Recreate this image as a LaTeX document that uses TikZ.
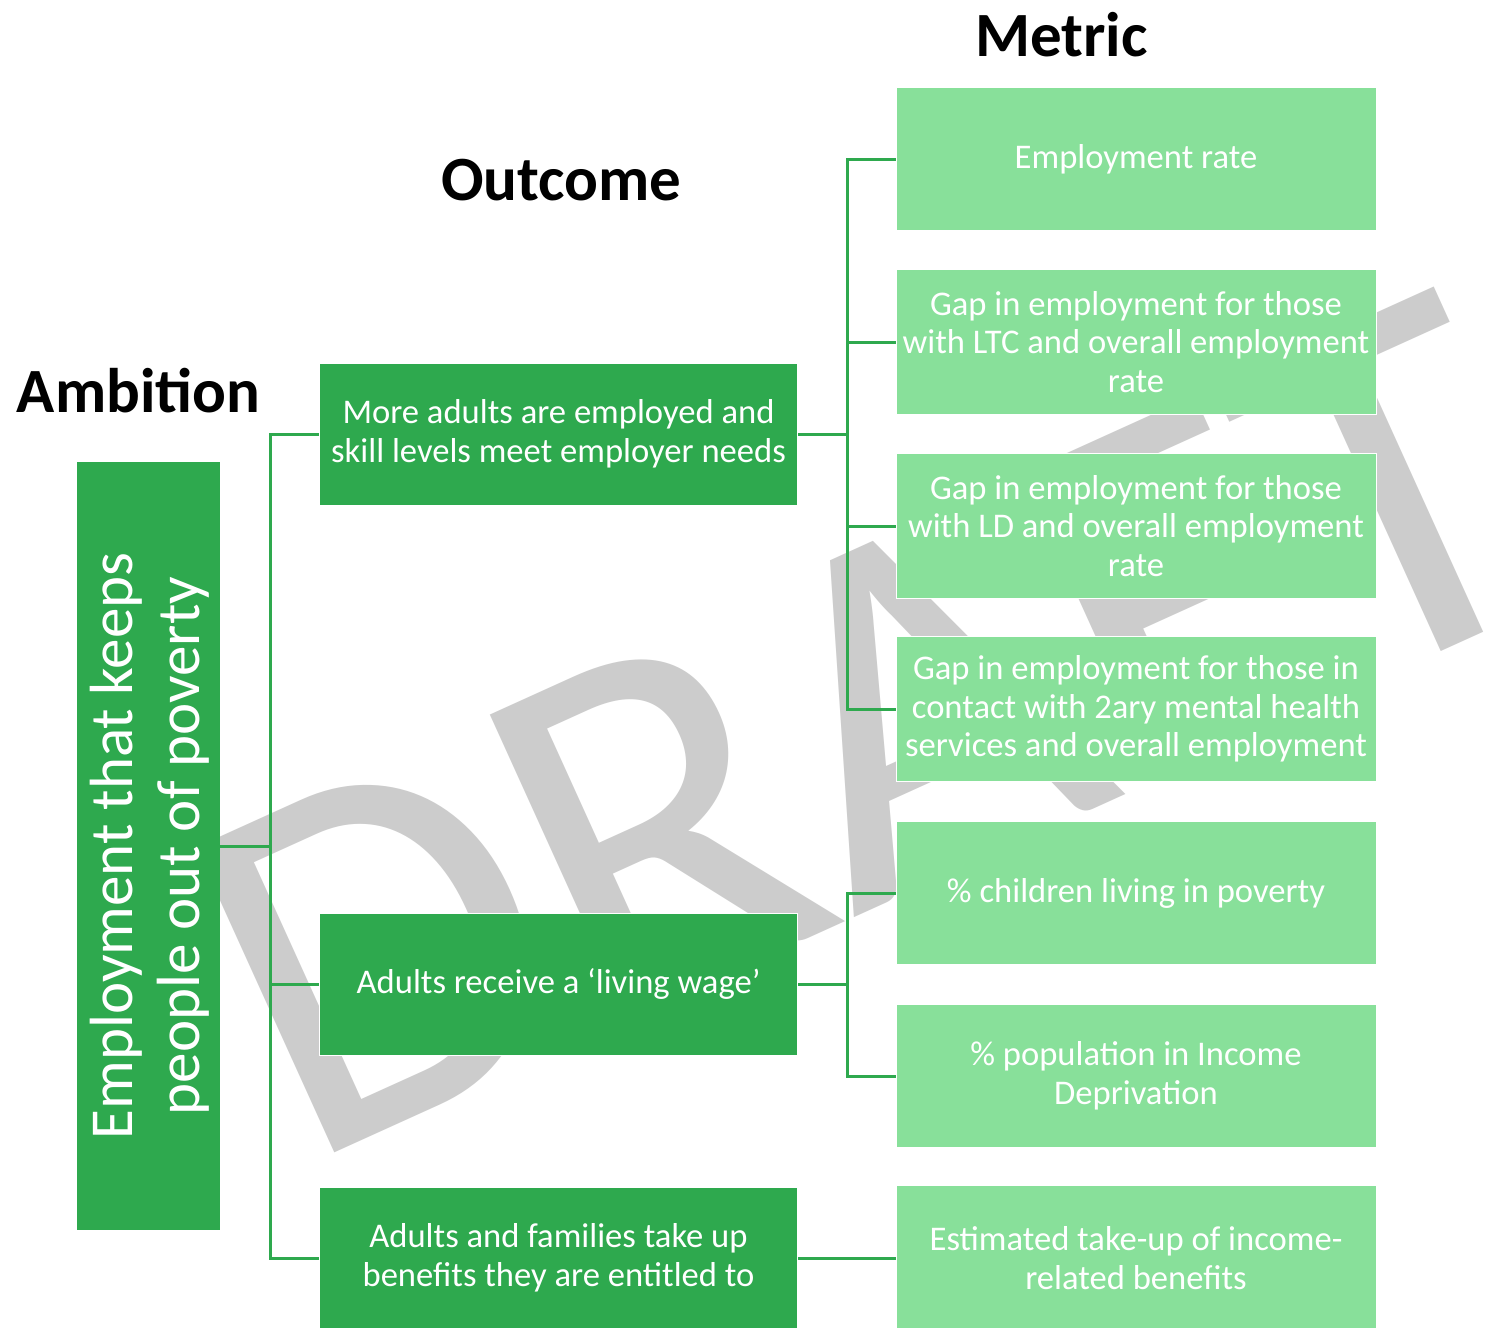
\documentclass[tikz,border=0pt]{standalone}
\usepackage{fontspec}
\setmainfont{Carlito}
\definecolor{dg}{HTML}{2EA94E}
\definecolor{lg}{HTML}{88E09A}
\definecolor{wm}{HTML}{CCCCCC}
\begin{document}
\begin{tikzpicture}[x=0.5pt,y=-0.5pt,
 obox/.style={fill=dg, draw=white, line width=0.5pt, minimum width=239pt, minimum height=71pt, inner sep=0pt, text=white, align=center, font=\fontsize{17.3}{19.25}\selectfont},
 mbox/.style={fill=lg, draw=white, line width=0.5pt, minimum width=240pt, minimum height=72.5pt, inner sep=0pt, text=white, align=center, font=\fontsize{17.3}{19.25}\selectfont},
 conn/.style={draw=dg, line width=1.5pt},
 head/.style={font=\fontsize{31.5}{36}\selectfont\bfseries, inner sep=0pt, anchor=base}]
\useasboundingbox[fill=white] (0,0) rectangle (1501,1328);
\clip (0,0) rectangle (1501,1328);
% watermark
\node[anchor=base west, rotate=24.4, inner sep=0pt, text=wm, font=\fontsize{261}{300}\selectfont] (wmk) at (302,1168) {DRAFT};
% headings
\node[head] (hamb) at (138.5,412) {Ambition};
\node[head] (hout) at (561.5,200) {Outcome};
\node[head] (hmet) at (1061.5,56) {Metric};
% ambition box
\node[fill=dg, minimum width=71.5pt, minimum height=384pt, inner sep=0pt] (amb) at (148.5,846) {};
\node[rotate=90, text=white, align=center, inner sep=0pt, font=\fontsize{30.5}{33.5}\selectfont] (ambt) at (150,846) {Employment that keeps\\people out of poverty};
% outcome boxes
\node[obox] (o1) at (558.5,434) {More adults are employed and\\skill levels meet employer needs};
\node[obox] (o2) at (558.5,984) {Adults receive a ‘living wage’};
\node[obox] (o3) at (558.5,1258) {Adults and families take up\\benefits they are entitled to};
% metric boxes
\node[mbox, minimum height=71.5pt] (m1) at (1136,159) {Employment rate};
\node[mbox] (m2) at (1136,342) {Gap in employment for those\\with LTC and overall employment\\rate};
\node[mbox] (m3) at (1136,526) {Gap in employment for those\\with LD and overall employment\\rate};
\node[mbox] (m4) at (1136,709) {Gap in employment for those in\\contact with 2ary mental health\\services and overall employment};
\node[mbox, minimum height=71.5pt] (m5) at (1136,893) {\% children living in poverty};
\node[mbox, minimum height=71.5pt] (m6) at (1136,1076) {\% population in Income\\Deprivation};
\node[mbox] (m7) at (1136,1258) {Estimated take-up of income-\\related benefits};
% connectors
\coordinate (ja) at (270,846);
\coordinate (jb) at (847,434);
\coordinate (jc) at (847,984);
\draw[conn] (amb.east) -- (ja);
\draw[conn] (o1.west) -| (ja);
\draw[conn] (o2.west) -| (ja);
\draw[conn] (o3.west) -| (ja);
\draw[conn] (o1.east) -- (jb);
\draw[conn] (m1.west) -| (jb);
\draw[conn] (m2.west) -| (jb);
\draw[conn] (m3.west) -| (jb);
\draw[conn] (m4.west) -| (jb);
\draw[conn] (o2.east) -- (jc);
\draw[conn] (m5.west) -| (jc);
\draw[conn] (m6.west) -| (jc);
\draw[conn] (o3.east) -- (m7.west);
\end{tikzpicture}
\end{document}
